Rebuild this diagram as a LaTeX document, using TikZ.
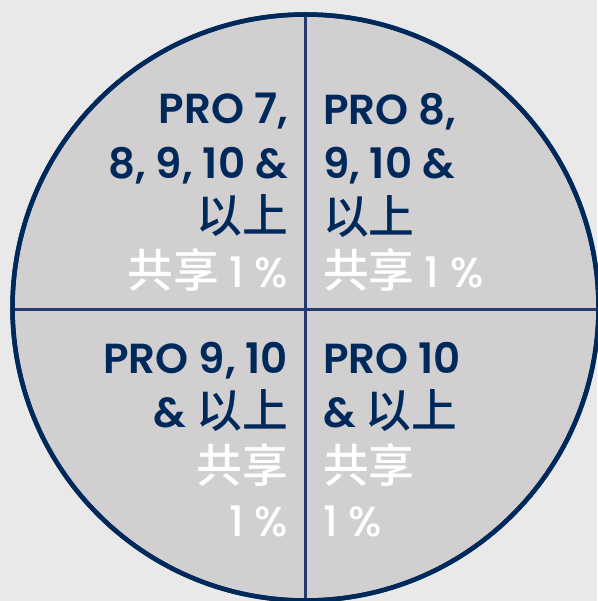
\documentclass[tikz,border=0pt]{standalone}
\usepackage{fontspec}
\setmainfont{Poppins SemiBold}
\newfontfamily\medfont{Poppins Medium}
\newfontfamily\cjk[Scale=1.09]{Noto Sans CJK SC Medium}
\definecolor{navy}{RGB}{0,41,91}
\definecolor{divider}{RGB}{37,58,110}
\definecolor{pagebg}{RGB}{233,233,233}
\definecolor{piefill}{RGB}{209,207,208}
\newcommand{\share}{\textcolor{white}{\cjk 共享}}
\newcommand{\pct}{\textcolor{white}{\medfont 1 \%}}

\begin{document}
\begin{tikzpicture}[x=1pt, y=1pt,
    pie/.style={circle, draw=navy, fill=piefill, line width=4.5pt,
        minimum size=586pt, inner sep=0pt},
    cut/.style={draw=divider, line width=3.5pt},
    quarter/.style={text=navy, inner sep=0pt, outer sep=0pt,
        font=\fontsize{42}{54.5}\selectfont},
    leftq/.style={quarter, align=right, anchor=north east},
    rightq/.style={quarter, align=left, anchor=north west}
    ]
    \fill[pagebg] (0,0) rectangle (597,601);
    \useasboundingbox (0,0) rectangle (597,601);
    \node[pie] (pie) at (305.5,293.5) {};
    \coordinate (mid) at (305.5,291.5);
    \draw[cut] (pie.north) -- (pie.south);
    \draw[cut] (pie.west |- mid) -- (pie.east |- mid);
    \draw[navy, line width=4.5pt] (pie.center) circle[radius=293];
    \node[leftq] (tl) at (288,508) {PRO 7,\\ 8, 9, 10 \&\\ {\cjk 以上}\\ \share\ \pct};
    \node[rightq] (tr) at (323,508) {PRO 8,\\ 9, 10 \&\\ {\cjk 以上}\\ \share\ \pct};
    \node[leftq] (bl) at (288,259) {PRO 9, 10\\ \& {\cjk 以上}\\ \share\\ \pct};
    \node[rightq] (br) at (323,259) {PRO 10\\ \& {\cjk 以上}\\ \share\\ \pct};
\end{tikzpicture}
\end{document}
